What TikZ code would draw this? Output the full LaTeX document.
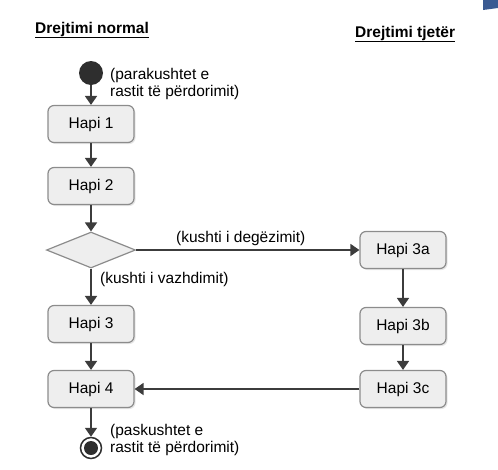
\documentclass[tikz,border=0pt]{standalone}
\usepackage{fontspec}
\setmainfont{Liberation Sans}
\usepackage{tikz}
\usetikzlibrary{arrows.meta}
\usetikzlibrary{shapes.geometric}
\usetikzlibrary{shadows}

\definecolor{relleno}{HTML}{EEEEEE}
\definecolor{borde}{HTML}{8C8C8C}
\definecolor{gris}{HTML}{3C3C3C}
\definecolor{negro}{HTML}{2E2E2E}
\definecolor{azul}{HTML}{3A5A92}

\begin{document}
\begin{tikzpicture}[x=1pt, y=-1pt, font=\fontsize{15.5}{16.5}\selectfont,
  paso/.style={draw=borde, fill=relleno, rounded corners=6pt, line width=1.2pt, minimum width=86pt, minimum height=37pt, drop shadow={shadow xshift=1.5pt, shadow yshift=-1.5pt, opacity=0.2}},
  flecha/.style={-{Triangle[length=9pt, width=12pt]}, line width=1.8pt, draw=gris},
  texto/.style={inner sep=0pt, align=left}]
  \useasboundingbox (0,0) rectangle (498,469);
  \fill [azul] (483,0) -- (498,0) -- (498,8) -- (483,10) -- cycle; % esquina azul
  \node [texto, anchor=base west] (normal) at (35,33) {\textbf{\underline{Drejtimi normal}}}; % titulo izquierda
  \node [texto, anchor=base west] (tjeter) at (355,37) {\textbf{\underline{Drejtimi tjetër}}}; % titulo derecha
  \node [circle, fill=negro, minimum size=24pt, inner sep=0pt] (inicio) at (91,73) {}; % inicio
  \node [paso] (hapi1) at (91,124) {Hapi 1};
  \node [paso] (hapi2) at (91,186) {Hapi 2};
  \node [diamond, draw=borde, fill=relleno, line width=1.2pt, minimum width=89pt, minimum height=36pt, inner sep=0pt] (rombo) at (91,250) {}; % decision
  \node [paso] (hapi3) at (91,324) {Hapi 3};
  \node [paso] (hapi4) at (91,389) {Hapi 4};
  \node [circle, draw=negro, line width=1.5pt, minimum size=21pt, inner sep=0pt] (fin) at (91,448) {}; % fin
  \fill [negro] (fin) circle (7); % punto del fin
  \node [paso] (hapi3a) at (403,250) {Hapi 3a};
  \node [paso] (hapi3b) at (403,326) {Hapi 3b};
  \node [paso] (hapi3c) at (403,389) {Hapi 3c};
  \node [texto, anchor=west] (pre) at (110,84) {(parakushtet e\\rastit të përdorimit)};
  \node [texto, anchor=base west] (degezimi) at (176,242) {(kushti i degëzimit)};
  \node [texto, anchor=base west] (vazhdimi) at (100,283) {(kushti i vazhdimit)};
  \node [texto, anchor=west] (pas) at (110,440) {(paskushtet e\\rastit të përdorimit)};
  % flechas
  \draw [flecha] (inicio) -- (hapi1);
  \draw [flecha] (hapi1) -- (hapi2);
  \draw [flecha] (hapi2) -- (rombo);
  \draw [flecha] (rombo) -- (hapi3);
  \draw [flecha] (hapi3) -- (hapi4);
  \draw [flecha] (hapi4) -- (fin);
  \draw [flecha] (rombo) -- (hapi3a);
  \draw [flecha] (hapi3a) -- (hapi3b);
  \draw [flecha] (hapi3b) -- (hapi3c);
  \draw [flecha] (hapi3c) -- (hapi4);
\end{tikzpicture}
\end{document}
